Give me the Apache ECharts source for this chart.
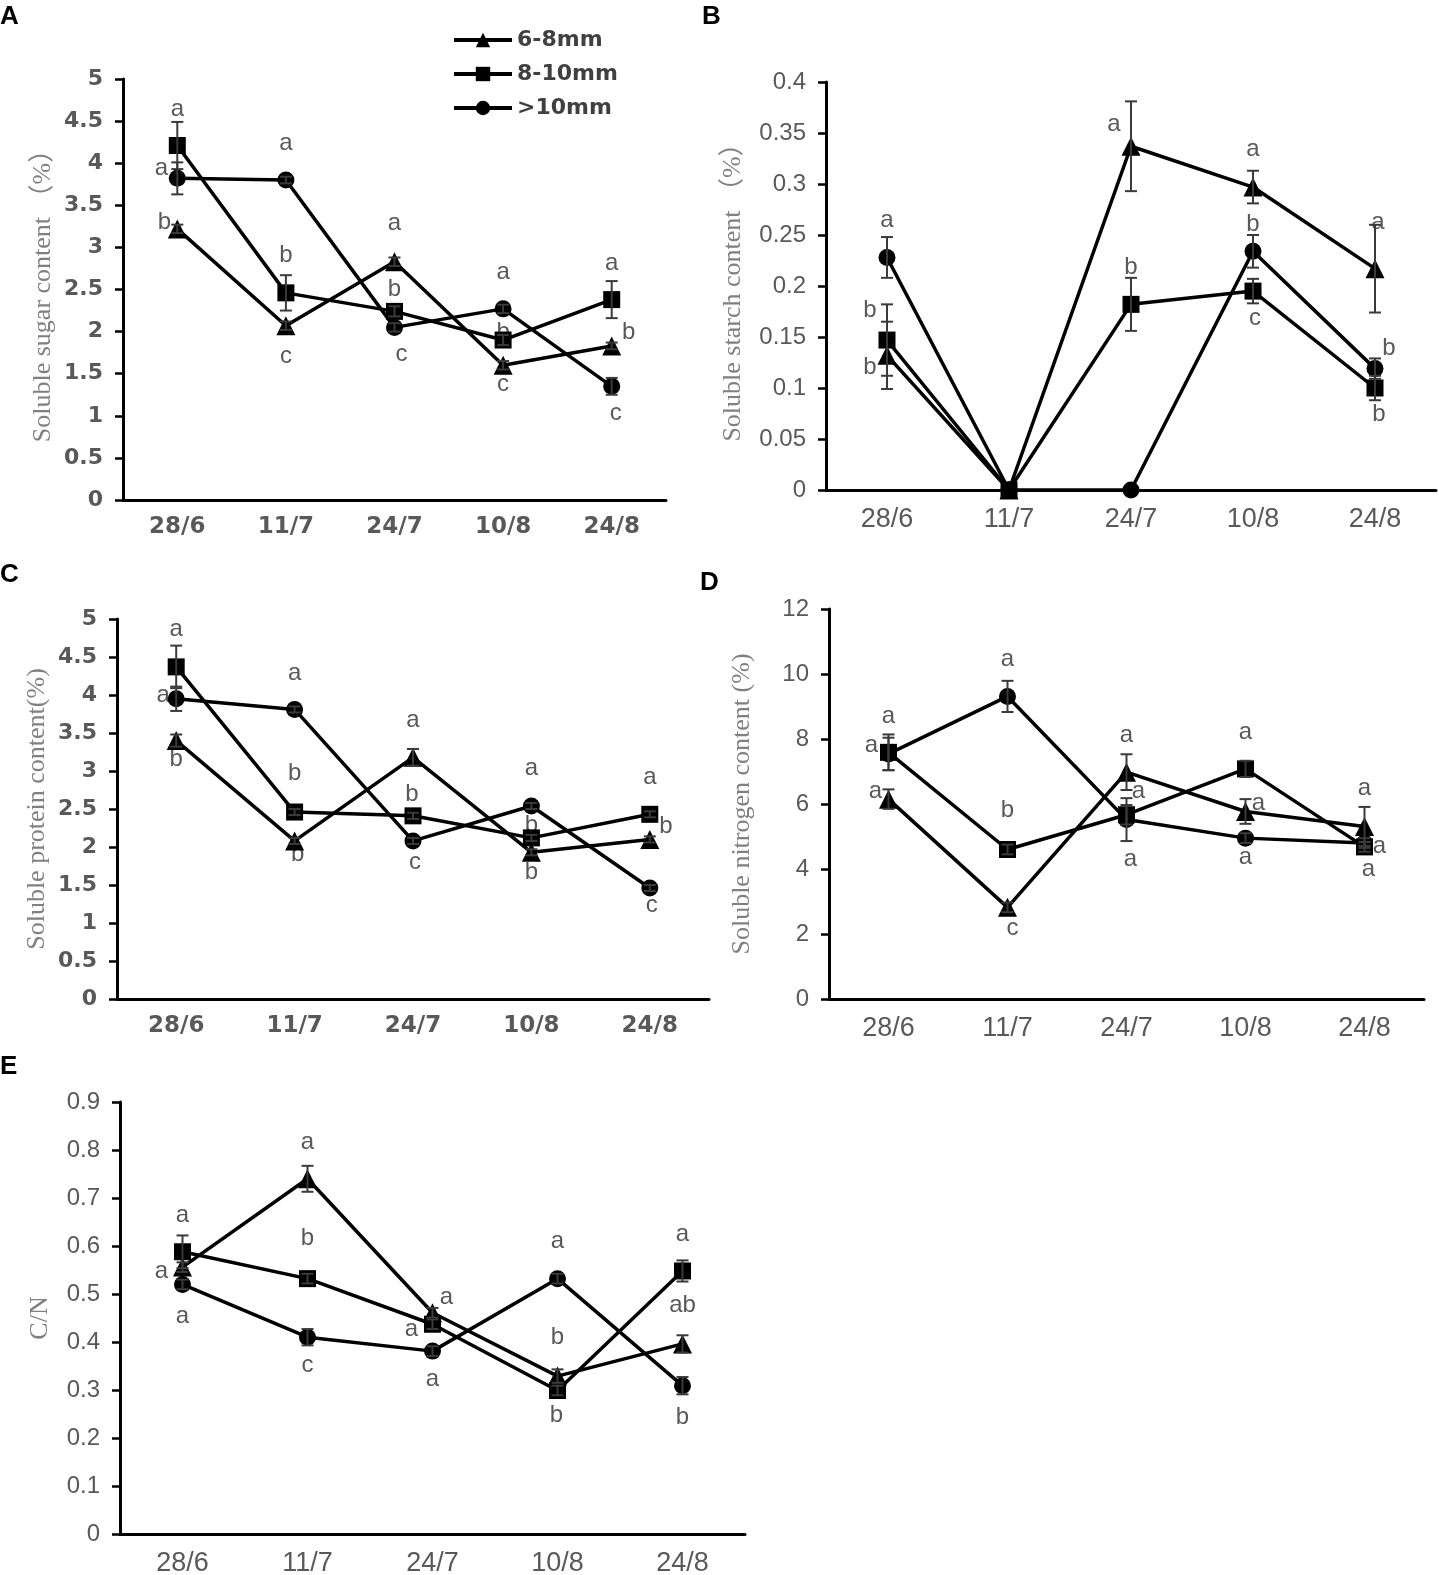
<!DOCTYPE html>
<html>
<head>
<meta charset="utf-8">
<script src="https://cdn.jsdelivr.net/npm/echarts@6/dist/echarts.min.js"></script>
<style>
html,body{margin:0;padding:0;background:#fff;}
#chart{width:1439px;height:1575px;}
</style>
</head>
<body>
<div id="chart"></div>
<script>
// ---------- data ----------
const categories = ['28/6', '11/7', '24/7', '10/8', '24/8'];
const seriesNames = ['6-8mm', '8-10mm', '>10mm'];

// A: soluble sugar (%)
const sugarTri = [3.22, 2.07, 2.83, 1.60, 1.83];
const sugarSq  = [4.21, 2.46, 2.24, 1.90, 2.38];
const sugarCi  = [3.82, 3.80, 2.05, 2.27, 1.35];
const sugarErrTri = [0.05, 0.05, 0.05, 0.05, 0.04];
const sugarErrSq  = [0.28, 0.21, 0.06, 0.06, 0.22];
const sugarErrCi  = [0.19, 0.04, 0.05, 0.05, 0.10];
const sugarLetters = [
  [0, 4.64, 'a', 0], [0, 3.94, 'a', -16], [0, 3.30, 'b', -13],
  [1, 4.24, 'a', 0], [1, 2.91, 'b', 0], [1, 1.71, 'c', 0],
  [2, 3.28, 'a', 0], [2, 2.50, 'b', 0], [2, 1.73, 'c', 7],
  [3, 2.70, 'a', 0], [3, 1.99, 'b', 0], [3, 1.37, 'c', 0],
  [4, 2.81, 'a', 0], [4, 1.99, 'b', 17], [4, 1.03, 'c', 4]
];

// B: soluble starch (%)
const starchTri = [0.132, 0, 0.337, 0.297, 0.217];
const starchSq  = [0.147, 0, 0.182, 0.195, 0.100];
const starchCi  = [0.228, 0, 0, 0.234, 0.119];
const starchErrTri = [0.033, 0, 0.044, 0.016, 0.043];
const starchErrSq  = [0.035, 0, 0.026, 0.012, 0.012];
const starchErrCi  = [0.020, 0, 0, 0.016, 0.010];
const starchLetters = [
  [0, 0.264, 'a', 0], [0, 0.176, 'b', -17], [0, 0.120, 'b', -17],
  [2, 0.358, 'a', -17], [2, 0.218, 'b', 0],
  [3, 0.334, 'a', 0], [3, 0.260, 'b', 0], [3, 0.168, 'c', 2],
  [4, 0.262, 'a', 3], [4, 0.139, 'b', 14], [4, 0.074, 'b', 4]
];

// C: soluble protein (%)
const proteinTri = [3.40, 2.08, 3.18, 1.93, 2.10];
const proteinSq  = [4.37, 2.46, 2.41, 2.12, 2.43];
const proteinCi  = [3.95, 3.81, 2.08, 2.54, 1.46];
const proteinErrTri = [0.08, 0.04, 0.11, 0.04, 0.04];
const proteinErrSq  = [0.28, 0.04, 0.04, 0.04, 0.04];
const proteinErrCi  = [0.16, 0.04, 0.04, 0.04, 0.04];
const proteinLetters = [
  [0, 4.86, 'a', 0], [0, 4.00, 'a', -13], [0, 3.15, 'b', 0],
  [1, 4.29, 'a', 0], [1, 2.97, 'b', 0], [1, 1.90, 'b', 3],
  [2, 3.66, 'a', 0], [2, 2.69, 'b', -1], [2, 1.80, 'c', 2],
  [3, 3.03, 'a', 0], [3, 2.29, 'b', 0], [3, 1.66, 'b', 0],
  [4, 2.91, 'a', 0], [4, 2.27, 'b', 16], [4, 1.23, 'c', 2]
];

// D: soluble nitrogen (%)
const nitrogenTri = [6.15, 2.82, 6.98, 5.77, 5.31];
const nitrogenSq  = [7.59, 4.60, 5.67, 7.08, 4.68];
const nitrogenCi  = [7.54, 9.31, 5.52, 4.95, 4.80];
const nitrogenErrTri = [0.30, 0.15, 0.55, 0.38, 0.60];
const nitrogenErrSq  = [0.55, 0.15, 0.30, 0.25, 0.15];
const nitrogenErrCi  = [0.50, 0.48, 0.66, 0.15, 0.15];
const nitrogenLetters = [
  [0, 8.70, 'a', 0], [0, 7.79, 'a', -17], [0, 6.39, 'a', -13],
  [1, 10.44, 'a', 0], [1, 5.80, 'b', 0], [1, 2.18, 'c', 5],
  [2, 8.10, 'a', 0], [2, 6.39, 'a', 12], [2, 4.29, 'a', 4],
  [3, 8.20, 'a', 0], [3, 6.03, 'a', 13], [3, 4.37, 'a', 0],
  [4, 6.49, 'a', 0], [4, 4.70, 'a', 15], [4, 3.98, 'a', 4]
];

// E: C/N
const cnTri = [0.556, 0.740, 0.461, 0.329, 0.396];
const cnSq  = [0.588, 0.532, 0.437, 0.299, 0.548];
const cnCi  = [0.520, 0.410, 0.381, 0.532, 0.309];
const cnErrTri = [0.010, 0.027, 0.010, 0.014, 0.018];
const cnErrSq  = [0.034, 0.010, 0.010, 0.010, 0.022];
const cnErrCi  = [0.010, 0.017, 0.010, 0.010, 0.018];
const cnLetters = [
  [0, 0.663, 'a', 0], [0, 0.547, 'a', -21], [0, 0.454, 'a', 0],
  [1, 0.816, 'a', 0], [1, 0.615, 'b', 0], [1, 0.351, 'c', 0],
  [2, 0.4925, 'a', 14], [2, 0.426, 'a', -21], [2, 0.322, 'a', 0],
  [3, 0.609, 'a', 0], [3, 0.410, 'b', 0], [3, 0.247, 'b', -1],
  [4, 0.625, 'a', 0], [4, 0.476, 'ab', 0], [4, 0.243, 'b', 0]
];

// ---------- layout / style ----------
const GRAY = '#595959';
const panels = [
  { grid: {left: 123, top: 79, width: 543, height: 421}, min: 0, max: 5, interval: 0.5, bold: true,
    title: 'Soluble sugar content （%）', nameGap: 67,
    values: [sugarTri, sugarSq, sugarCi], errs: [sugarErrTri, sugarErrSq, sugarErrCi], letters: sugarLetters },
  { grid: {left: 826, top: 82, width: 610, height: 408}, min: 0, max: 0.4, interval: 0.05, bold: false,
    title: 'Soluble starch content （%）', nameGap: 80,
    values: [starchTri, starchSq, starchCi], errs: [starchErrTri, starchErrSq, starchErrCi], letters: starchLetters },
  { grid: {left: 117, top: 619, width: 592, height: 380}, min: 0, max: 5, interval: 0.5, bold: true,
    title: 'Soluble protein content(%)', nameGap: 67,
    values: [proteinTri, proteinSq, proteinCi], errs: [proteinErrTri, proteinErrSq, proteinErrCi], letters: proteinLetters },
  { grid: {left: 829, top: 609, width: 595, height: 390}, min: 0, max: 12, interval: 2, bold: false,
    title: 'Soluble nitrogen content (%)', nameGap: 74,
    values: [nitrogenTri, nitrogenSq, nitrogenCi], errs: [nitrogenErrTri, nitrogenErrSq, nitrogenErrCi], letters: nitrogenLetters },
  { grid: {left: 120, top: 1102, width: 625, height: 432}, min: 0, max: 0.9, interval: 0.1, bold: false,
    title: 'C/N', nameGap: 67,
    values: [cnTri, cnSq, cnCi], errs: [cnErrTri, cnErrSq, cnErrCi], letters: cnLetters }
];
const symbols = ['triangle', 'rect', 'circle'];
const symbolSizes = [19, 17, 17];
const panelLetters = [
  {t: 'A', x: 0, y: 4}, {t: 'B', x: 702, y: 4}, {t: 'C', x: 0, y: 562},
  {t: 'D', x: 700, y: 570}, {t: 'E', x: 0, y: 1054}
];

const grids = [], xAxes = [], yAxes = [], series = [];
panels.forEach((p, i) => {
  grids.push(Object.assign({outerBoundsMode: 'none', containLabel: false}, p.grid));
  const labelFont = p.bold
    ? {fontFamily: '"DejaVu Sans"', fontWeight: 'bold', fontSize: 22, color: GRAY}
    : {fontFamily: '"Liberation Sans"', fontWeight: 'normal', fontSize: 24, color: GRAY};
  const xLabelFont = p.bold
    ? {fontFamily: '"DejaVu Sans"', fontWeight: 'bold', fontSize: 23, color: GRAY}
    : {fontFamily: '"Liberation Sans"', fontWeight: 'normal', fontSize: 27, color: GRAY};
  xAxes.push({
    type: 'category', gridIndex: i, data: categories, boundaryGap: true,
    axisLine: {lineStyle: {color: '#000', width: 3}},
    axisTick: {alignWithLabel: true, length: 7, lineStyle: {color: '#000', width: 2.5}},
    axisLabel: Object.assign({margin: 16}, xLabelFont),
    splitLine: {show: false}
  });
  yAxes.push({
    type: 'value', gridIndex: i, min: p.min, max: p.max, interval: p.interval,
    name: p.title, nameLocation: 'middle', nameRotate: 90, nameGap: p.nameGap,
    nameTextStyle: {fontFamily: '"Liberation Serif", "Noto Sans CJK SC", serif', fontSize: 26, color: '#808080'},
    axisLine: {show: true, lineStyle: {color: '#000', width: 3}},
    axisTick: {show: true, length: 8, lineStyle: {color: '#000', width: 2.5}},
    axisLabel: Object.assign({margin: 20}, labelFont),
    splitLine: {show: false}
  });
  // line series
  p.values.forEach((vals, s) => {
    series.push({
      name: seriesNames[s], type: 'line', xAxisIndex: i, yAxisIndex: i,
      data: vals, symbol: symbols[s], symbolSize: symbolSizes[s], showSymbol: true,
      lineStyle: {color: '#000', width: 3.5}, itemStyle: {color: '#000'},
      z: 2, animation: false
    });
  });
  // error bars
  const errData = [];
  p.values.forEach((vals, s) => {
    vals.forEach((v, k) => { if (p.errs[s][k] > 0) errData.push([k, v, p.errs[s][k]]); });
  });
  series.push({
    type: 'custom', xAxisIndex: i, yAxisIndex: i, data: errData,
    encode: {x: 0, y: 1}, z: 3, silent: true, animation: false,
    renderItem: (params, api) => {
      const x = api.value(0), y = api.value(1), e = api.value(2);
      const top = api.coord([x, y + e]);
      const bot = api.coord([x, y - e]);
      const w = 6;
      const st = {stroke: '#3a3a3a', lineWidth: 2};
      return {type: 'group', children: [
        {type: 'line', shape: {x1: top[0], y1: top[1], x2: bot[0], y2: bot[1]}, style: st},
        {type: 'line', shape: {x1: top[0] - w, y1: top[1], x2: top[0] + w, y2: top[1]}, style: st},
        {type: 'line', shape: {x1: bot[0] - w, y1: bot[1], x2: bot[0] + w, y2: bot[1]}, style: st}
      ]};
    }
  });
  // significance letters
  const L = p.letters;
  series.push({
    type: 'custom', xAxisIndex: i, yAxisIndex: i,
    data: L.map(d => [d[0], d[1]]), encode: {x: 0, y: 1}, z: 1, silent: true, animation: false,
    renderItem: (params, api) => {
      const pt = api.coord([api.value(0), api.value(1)]);
      const d = L[params.dataIndex];
      return {type: 'text', x: pt[0] + d[3], y: pt[1],
        style: {text: d[2], fill: GRAY, fontSize: 24, fontFamily: '"Liberation Sans"',
                align: 'center', verticalAlign: 'middle'}};
    }
  });
});

const option = {
  backgroundColor: '#fff',
  animation: false,
  grid: grids, xAxis: xAxes, yAxis: yAxes, series: series,
  legend: {
    data: seriesNames, orient: 'vertical', left: 447, top: 24,
    itemWidth: 58, itemHeight: 18, itemGap: 12,
    lineStyle: {width: 4},
    textStyle: {fontFamily: '"DejaVu Sans"', fontWeight: 'bold', fontSize: 22, color: '#404040'},
    selectedMode: false
  },
  graphic: panelLetters.map(l => ({
    type: 'text', left: l.x, top: l.y,
    style: {text: l.t, fontSize: 26, fontWeight: 'bold', fontFamily: '"Liberation Sans"', fill: '#000'}
  }))
};

const chart = echarts.init(document.getElementById('chart'), null, {renderer: 'canvas'});
chart.setOption(option);
</script>
</body>
</html>
